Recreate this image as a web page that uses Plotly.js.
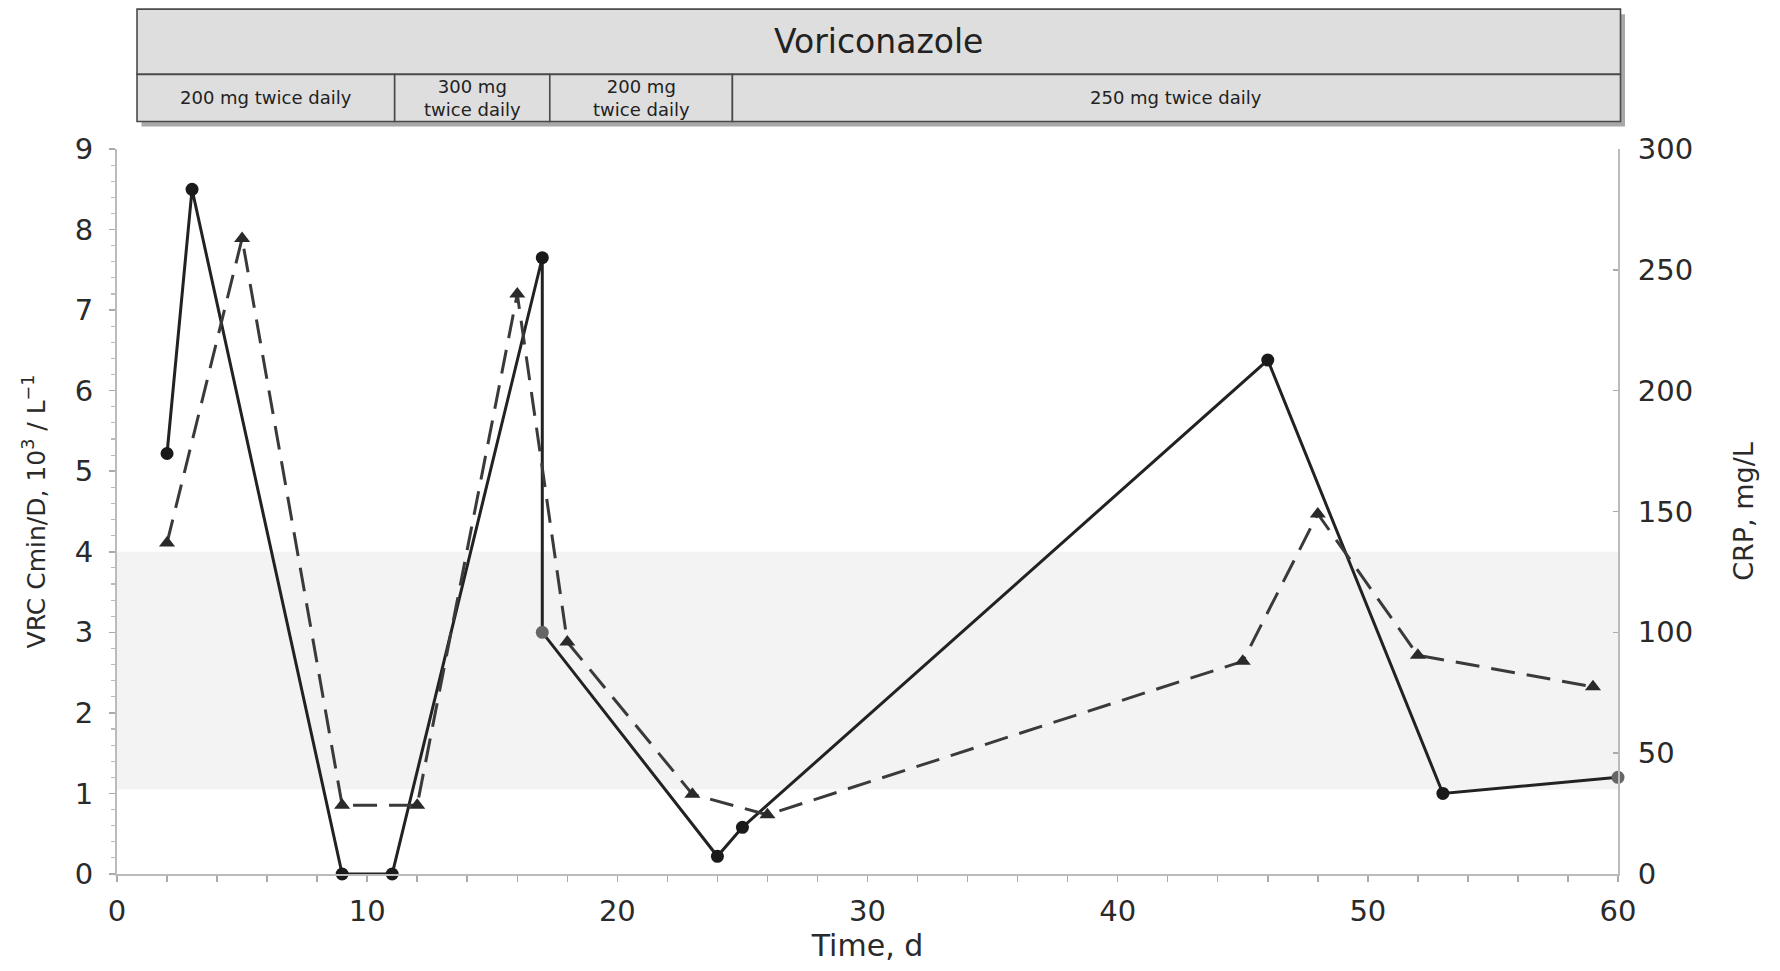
<!DOCTYPE html>
<html>
<head>
<meta charset="utf-8">
<script src="https://cdn.plot.ly/plotly-3.0.1.min.js"></script>
<style>html,body{margin:0;padding:0;background:#fff;}#chart{width:1780px;height:971px;}</style>
</head>
<body>
<div id="chart"></div>
<script>
// ---- Data ----
var vrcDays   = [2, 3, 9, 11, 17, 17, 24, 25, 46, 53, 60];
var vrcValues = [5.22, 8.5, 0, 0, 7.65, 3.0, 0.22, 0.58, 6.38, 1.0, 1.2];   // VRC Cmin/D, 10^3 / L^-1
var crpDays   = [2, 5, 9, 12, 16, 18, 23, 26, 45, 48, 52, 59];
var crpValues = [137, 263, 28.5, 28.5, 240, 96, 33, 24.5, 88, 149, 90.5, 77.5]; // CRP, mg/L

var targetRange = [1.05, 4.0];          // shaded band on left axis
var xTickVals = [0, 10, 20, 30, 40, 50, 60];
var drugName = "Voriconazole";
var doseBounds = [0.8, 11.1, 17.3, 24.6, 60.1];   // days
var doseLabels = ["200 mg twice daily", "300 mg<br>twice daily", "200 mg<br>twice daily", "250 mg twice daily"];

// ---- Styling helpers ----
var xMin = 0, xMax = 60;
function px(d) { return (d - xMin) / (xMax - xMin); }
var rowTop = 1.193, rowMid = 1.103, rowBot = 1.038;
var boxFill = "#dedede", boxLine = "#4a4a4a";

var vrcMarkerColors = vrcValues.map(function (v, i) { return (i === 5 || i === 10) ? "#666" : "#1a1a1a"; });

var traces = [
  {
    x: vrcDays, y: vrcValues, type: "scatter", mode: "lines+markers",
    name: "VRC Cmin/D", yaxis: "y", cliponaxis: false,
    line: {color: "#222", width: 3},
    marker: {symbol: "circle", size: 13, color: vrcMarkerColors}
  },
  {
    x: crpDays, y: crpValues, type: "scatter", mode: "lines+markers",
    name: "CRP", yaxis: "y2", cliponaxis: false,
    line: {color: "#3a3a3a", width: 3, dash: "24px,12px"},
    marker: {symbol: "triangle-up", size: 14, color: "#2a2a2a"}
  }
];

var shapes = [
  {type: "rect", xref: "x", yref: "y", x0: xMin, x1: xMax, y0: targetRange[0], y1: targetRange[1],
   fillcolor: "#f3f3f3", line: {width: 0}, layer: "below"},
  // header shadow
  {type: "rect", xref: "paper", yref: "paper", x0: px(doseBounds[0]) + 0.003, x1: px(doseBounds[4]) + 0.003,
   y0: rowBot - 0.007, y1: rowTop - 0.007, fillcolor: "#a8a8a8", line: {width: 0}},
  // header top row
  {type: "rect", xref: "paper", yref: "paper", x0: px(doseBounds[0]), x1: px(doseBounds[4]),
   y0: rowMid, y1: rowTop, fillcolor: boxFill, line: {color: boxLine, width: 1.6}}
];
for (var i = 0; i < doseLabels.length; i++) {
  shapes.push({type: "rect", xref: "paper", yref: "paper", x0: px(doseBounds[i]), x1: px(doseBounds[i + 1]),
    y0: rowBot, y1: rowMid, fillcolor: boxFill, line: {color: boxLine, width: 1.6}});
}

var annotations = [
  {xref: "paper", yref: "paper", x: (px(doseBounds[0]) + px(doseBounds[4])) / 2, y: (rowTop + rowMid) / 2,
   text: drugName, showarrow: false, xanchor: "center", yanchor: "middle",
   font: {family: "DejaVu Sans, sans-serif", size: 33, color: "#222"}}
];
for (var j = 0; j < doseLabels.length; j++) {
  annotations.push({xref: "paper", yref: "paper", x: (px(doseBounds[j]) + px(doseBounds[j + 1])) / 2,
    y: (rowMid + rowBot) / 2, text: doseLabels[j], showarrow: false, xanchor: "center", yanchor: "middle",
    font: {family: "DejaVu Sans, sans-serif", size: 18, color: "#222"}});
}

var tickFont = {family: "DejaVu Sans, sans-serif", size: 29, color: "#2a2a2a"};
var titleFont = {family: "DejaVu Sans, sans-serif", size: 27, color: "#2a2a2a"};

var layout = {
  width: 1780, height: 971,
  margin: {l: 117, r: 162, t: 149, b: 97, pad: 0},
  paper_bgcolor: "#fff", plot_bgcolor: "#fff",
  showlegend: false,
  xaxis: {
    range: [xMin, xMax], tickvals: xTickVals, ticks: "outside", ticklen: 6, tickwidth: 1.5, tickcolor: "#aaa",
    minor: {dtick: 2, ticks: "outside", ticklen: 6, tickcolor: "#aaa", tickwidth: 1.5},
    showline: true, linecolor: "#bbb", linewidth: 2, showgrid: false, zeroline: false,
    tickfont: tickFont, ticklabelstandoff: 4,
    title: {text: "Time, d", font: {family: "DejaVu Sans, sans-serif", size: 30, color: "#2a2a2a"}, standoff: 8}
  },
  yaxis: {
    range: [0, 9], dtick: 1, ticks: "outside", ticklen: 6, tickwidth: 1.5, tickcolor: "#aaa",
    minor: {dtick: 0.2, ticks: "outside", ticklen: 4, tickcolor: "#bbb", tickwidth: 1.2},
    showline: true, linecolor: "#bbb", linewidth: 2, showgrid: false, zeroline: false,
    tickfont: tickFont, ticklabelstandoff: 10,
    title: {text: "VRC Cmin/D, 10<sup>3</sup> / L<sup>−1</sup>", font: {family: "DejaVu Sans, sans-serif", size: 25, color: "#2a2a2a"}, standoff: 22}
  },
  yaxis2: {
    range: [0, 300], dtick: 50, overlaying: "y", side: "right", ticks: "inside", ticklen: 5, tickwidth: 1.5, tickcolor: "#aaa",
    showline: true, linecolor: "#bbb", linewidth: 2, showgrid: false, zeroline: false,
    tickfont: tickFont, ticklabelstandoff: 12,
    title: {text: "CRP, mg/L", font: titleFont, standoff: 42}
  },
  shapes: shapes,
  annotations: annotations
};

Plotly.newPlot("chart", traces, layout, {displayModeBar: false, staticPlot: true});
</script>
</body>
</html>
